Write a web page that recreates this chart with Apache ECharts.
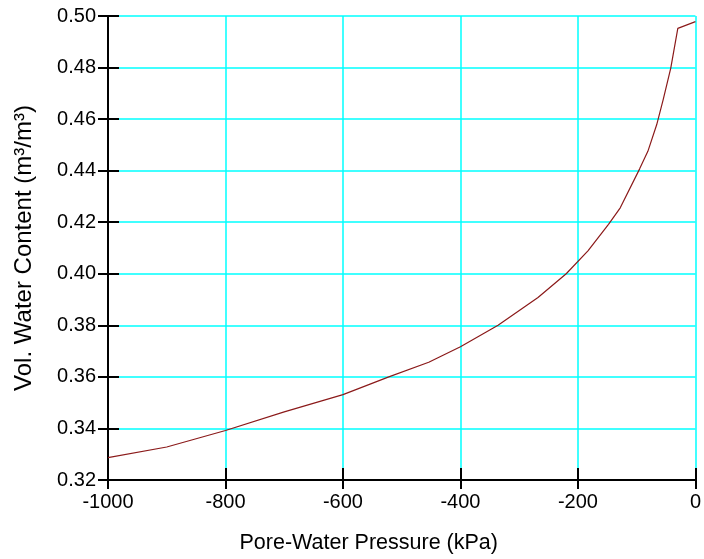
<!DOCTYPE html>
<html>
<head>
<meta charset="utf-8">
<script src="https://cdn.jsdelivr.net/npm/echarts@6/dist/echarts.min.js"></script>
<style>
    html, body { margin: 0; padding: 0; background: #fff; }
    #chart { width: 704px; height: 559px; }
</style>
</head>
<body>
<div id="chart"></div>
<script>
// pore-water pressure (kPa) and volumetric water content (m3/m3)
var pressure = [-1000, -900, -800, -700, -600, -522, -454, -400, -336, -268, -220, -183, -148, -128, -95, -81, -66, -55, -42, -30, 0];
var vwc = [0.3287, 0.3328, 0.3392, 0.3464, 0.3531, 0.3600, 0.3657, 0.3717, 0.3800, 0.3908, 0.4000, 0.4089, 0.4192, 0.4256, 0.4407, 0.4475, 0.4578, 0.4675, 0.4798, 0.4952, 0.4978];

var fontName = "Liberation Sans, Arial, sans-serif";

var points = [];
for (var i = 0; i < pressure.length; i++) {
    points.push([pressure[i], vwc[i]]);
}

var dom = document.getElementById("chart");
var myChart = echarts.init(dom);
var option = null;

option = {
    animation: false,
    grid: {
        left: 108,
        right: 7,
        top: 16,
        bottom: 77
    },
    xAxis: [
        {
            type: 'value',
            min: -1000,
            max: 0,
            interval: 200,
            name: 'Pore-Water Pressure (kPa)',
            nameLocation: 'middle',
            nameGap: 52,
            // the title sits a bit left of the plot centre in the original
            nameTextStyle: {color: '#000', fontSize: 21.5, fontFamily: fontName, padding: [0, 66, 0, 0]},
            axisLine: {show: true, onZero: false, lineStyle: {color: '#000', width: 2}},
            axisTick: {show: true, inside: false, length: 9, lineStyle: {color: '#000', width: 2}},
            axisLabel: {
                color: '#000', fontSize: 20, fontFamily: fontName, margin: 12,
                formatter: function (v) { return String(v); }
            },
            splitLine: {show: true, lineStyle: {color: '#00ffff', width: 1.5}}
        },
        {
            type: 'value',
            min: -1000,
            max: 0,
            interval: 200,
            position: 'bottom',
            axisLine: {show: false, onZero: false},
            axisTick: {show: true, inside: true, length: 12, lineStyle: {color: '#000', width: 2}},
            axisLabel: {show: false},
            splitLine: {show: false}
        }
    ],
    yAxis: [
        {
            type: 'value',
            min: 0.32,
            max: 0.50,
            interval: 0.02,
            name: 'Vol. Water Content (m³/m³)',
            nameLocation: 'middle',
            nameGap: 72,
            nameTextStyle: {color: '#000', fontSize: 24, fontFamily: fontName},
            axisLine: {show: true, onZero: false, lineStyle: {color: '#000', width: 2}},
            axisTick: {show: true, inside: false, length: 10, lineStyle: {color: '#000', width: 2}},
            axisLabel: {
                color: '#000', fontSize: 20, fontFamily: fontName, margin: 12,
                formatter: function (v) { return v.toFixed(2); }
            },
            splitLine: {show: true, lineStyle: {color: '#00ffff', width: 1.5}}
        },
        {
            type: 'value',
            min: 0.32,
            max: 0.50,
            interval: 0.02,
            position: 'left',
            axisLine: {show: false, onZero: false},
            axisTick: {show: true, inside: true, length: 11, lineStyle: {color: '#000', width: 2}},
            axisLabel: {show: false},
            splitLine: {show: false}
        }
    ],
    series: [
        {
            type: 'line',
            data: points,
            xAxisIndex: 0,
            yAxisIndex: 0,
            symbol: 'none',
            smooth: false,
            lineStyle: {color: '#8b1a1a', width: 1.2},
            z: 5
        }
    ]
};

if (option && typeof option === "object") {
    myChart.setOption(option, true);
}
</script>
</body>
</html>
